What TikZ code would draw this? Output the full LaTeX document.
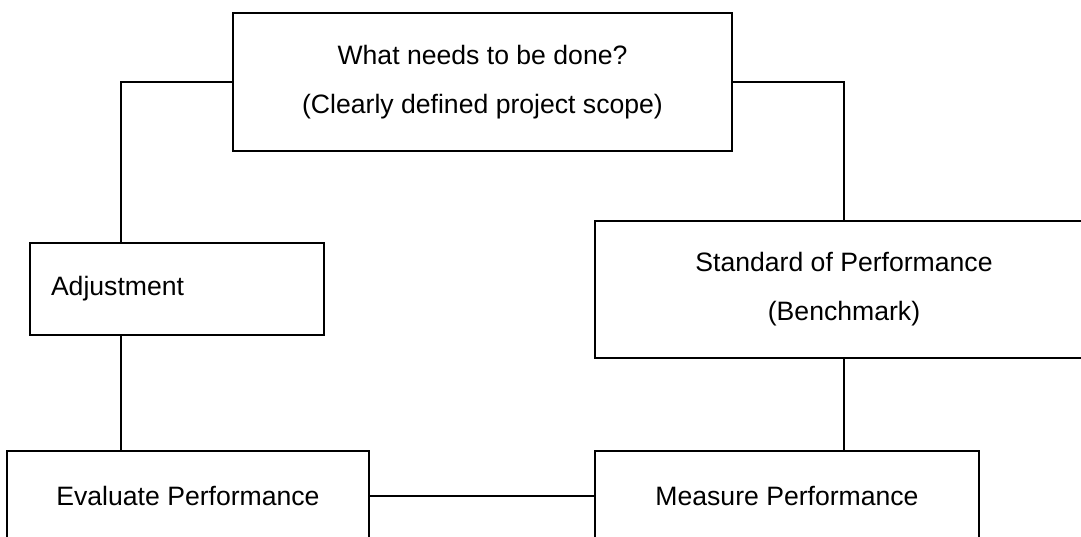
\documentclass[tikz,border=0pt]{standalone}
\usepackage{fontspec}
\setsansfont{Liberation Sans}
\usetikzlibrary{positioning}

\begin{document}
\begin{tikzpicture}[
  x=1pt, y=-1pt,
  every node/.style={font=\sffamily\fontsize{26.6}{49}\selectfont},
  stagebox/.style={draw, line width=2pt, align=center, inner sep=0pt},
  link/.style={draw, line width=2pt}
]
\useasboundingbox (0,0) rectangle (1081,537);
\clip (0,0) rectangle (1081,537);

\node[stagebox, minimum width=499pt, minimum height=138pt] (scope) at (482.5,82)
  {What needs to be done?\\(Clearly defined project scope)};
\node[stagebox, minimum width=294pt, minimum height=92pt, inner xsep=21pt,
  text width=252pt, align=left] (adjust) at (177,289) {Adjustment};
\node[stagebox, minimum width=498pt, minimum height=137pt] (standard) at (844,289.5)
  {Standard of Performance\\(Benchmark)};
\node[stagebox, minimum width=362pt, minimum height=90pt] (evaluate) at (188,496)
  {Evaluate Performance};
\node[stagebox, minimum width=384pt, minimum height=90pt] (measure) at (787,496)
  {Measure Performance};
\coordinate (lbus) at (121,0);

\draw[link] (scope.west) -| (lbus |- adjust.north);
\draw[link] (adjust.south -| lbus) -- (lbus |- evaluate.north);
\draw[link] (scope.east) -| (standard.north);
\draw[link] (standard.south) -- (standard.south |- measure.north);
\draw[link] (evaluate.east) -- (measure.west);
\end{tikzpicture}
\end{document}
